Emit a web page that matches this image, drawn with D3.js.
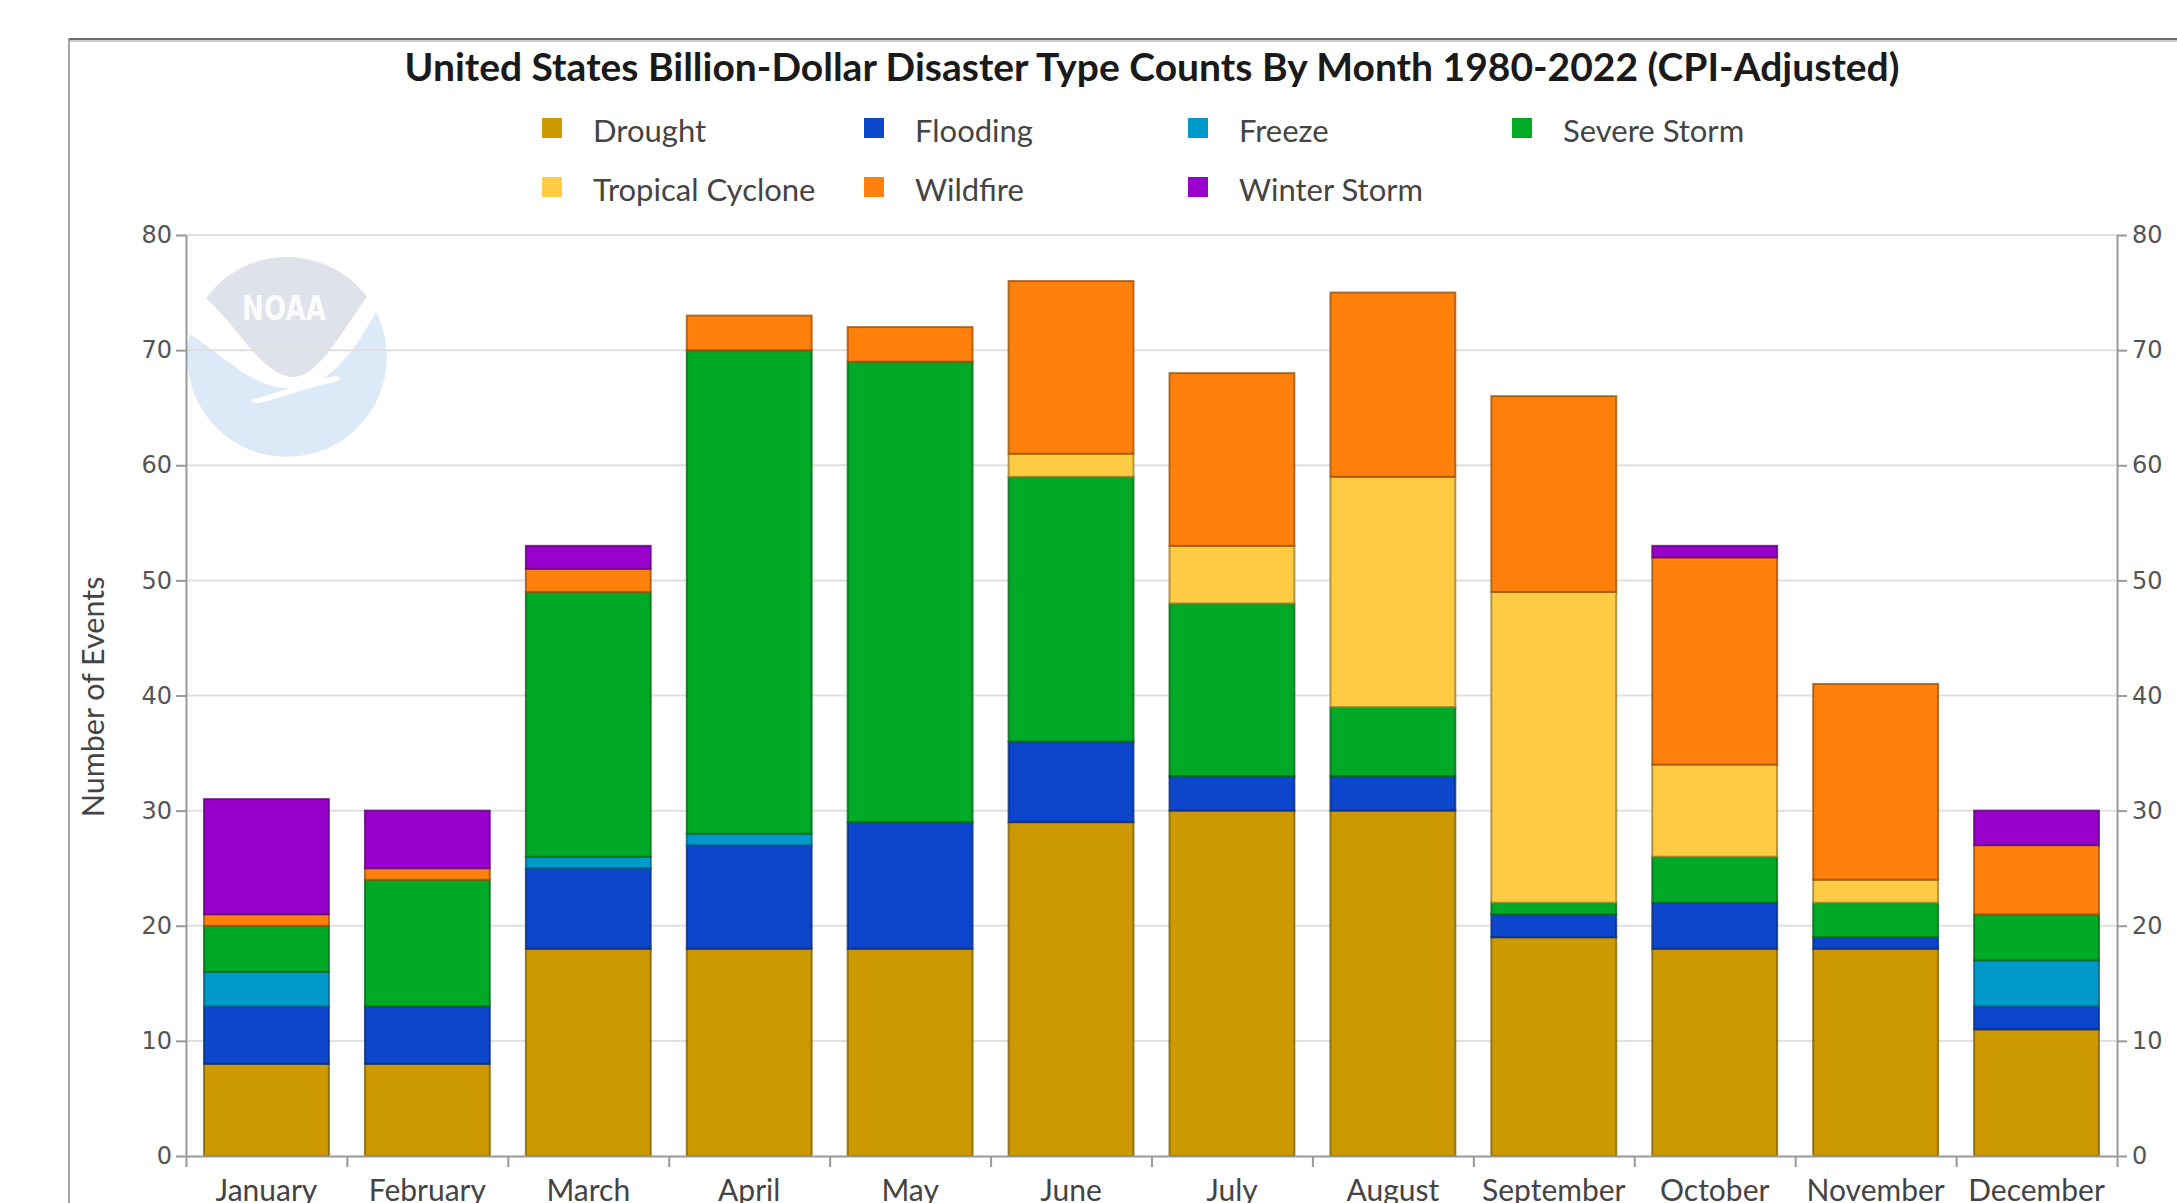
<!DOCTYPE html>
<html>
<head>
<meta charset="utf-8">
<script src="https://cdn.jsdelivr.net/npm/d3@7"></script>
<style>
  html, body { margin: 0; padding: 0; background: #fff; overflow: hidden; }
  svg { display: block; }
</style>
</head>
<body>
<svg id="chart" width="2177" height="1203"></svg>
<script>
// ---- data ----
const months = ["January","February","March","April","May","June","July","August","September","October","November","December"];
const seriesNames = ["Drought","Flooding","Freeze","Severe Storm","Tropical Cyclone","Wildfire","Winter Storm"];
const drought         = [8, 8, 18, 18, 18, 29, 30, 30, 19, 18, 18, 11];
const flooding        = [5, 5, 7, 9, 11, 7, 3, 3, 2, 4, 1, 2];
const freeze          = [3, 0, 1, 1, 0, 0, 0, 0, 0, 0, 0, 4];
const severeStorm     = [4, 11, 23, 42, 40, 23, 15, 6, 1, 4, 3, 4];
const tropicalCyclone = [0, 0, 0, 0, 0, 2, 5, 20, 27, 8, 2, 0];
const wildfire        = [1, 1, 2, 3, 3, 15, 15, 16, 17, 18, 17, 6];
const winterStorm     = [10, 5, 2, 0, 0, 0, 0, 0, 0, 1, 0, 3];
const yTicks = [0, 10, 20, 30, 40, 50, 60, 70, 80];
const titleText = "United States Billion-Dollar Disaster Type Counts By Month 1980-2022 (CPI-Adjusted)";
const yTitle = "Number of Events";

// ---- styles ----
const palette = ["#cc9900", "#0b46cc", "#0099cc", "#00a926", "#ffcc44", "#ff800a", "#9900cc"];

const seriesValues = [drought, flooding, freeze, severeStorm, tropicalCyclone, wildfire, winterStorm];
const table = months.map((m, i) => {
  const row = { month: m };
  seriesNames.forEach((s, j) => row[s] = seriesValues[j][i]);
  return row;
});
const stacked = d3.stack().keys(seriesNames)(table);

const svg = d3.select("#chart");
const L = 186, R = 2117, T = 235, B = 1156;

const x = d3.scaleBand().domain(months).range([L, R]).paddingInner(0.224).paddingOuter(0.112);
const xEdge = d3.scaleLinear().domain([0, 12]).range([L, R]);
const y = d3.scaleLinear().domain([0, 80]).range([B, T]);
const color = d3.scaleOrdinal().domain(seriesNames).range(palette);

// frame
svg.append("line").attr("x1", 69).attr("x2", 2177).attr("y1", 40).attr("y2", 40)
  .attr("stroke", "#ccc").attr("stroke-width", 4);
svg.append("line").attr("x1", 69).attr("x2", 2177).attr("y1", 39).attr("y2", 39)
  .attr("stroke", "#6a6a6a").attr("stroke-width", 2);
svg.append("line").attr("x1", 69).attr("x2", 69).attr("y1", 38).attr("y2", 1203)
  .attr("stroke", "#8a8a8a").attr("stroke-width", 1.5);

// watermark (NOAA logo)
const wm = svg.append("g");
const defs = svg.append("defs");
defs.append("clipPath").attr("id", "logoClip").append("circle")
  .attr("cx", 287).attr("cy", 357).attr("r", 100);
const lg = wm.append("g").attr("clip-path", "url(#logoClip)");
lg.append("circle").attr("cx", 287).attr("cy", 357).attr("r", 100).attr("fill", "#dbeaf6");
lg.append("path").attr("fill", "#ffffff")
  .attr("d", "M180,328 C222,352 252,392 296,388 C330,385 356,350 378,308 L400,240 L180,240 Z");
lg.append("path").attr("fill", "#dfe2ea")
  .attr("d", "M198,292 C232,316 258,372 290,377 C318,380 342,330 372,290 L372,240 L198,240 Z");
lg.append("path").attr("fill", "#ffffff")
  .attr("d", "M254,399 C282,392 308,380 336,376 C344,378 340,381 330,383 C305,388 282,398 258,403 C250,403 250,400 254,399 Z");
lg.append("text").attr("x", 284).attr("y", 320).attr("text-anchor", "middle")
  .attr("font-family", "DejaVu Sans").attr("font-weight", "bold").attr("font-size", 33)
  .attr("textLength", 84).attr("lengthAdjust", "spacingAndGlyphs")
  .attr("fill", "#ffffff").attr("fill-opacity", 0.9).text("NOAA");

// gridlines
svg.append("g").selectAll("line").data(yTicks.filter(d => d > 0)).join("line")
  .attr("x1", L).attr("x2", R).attr("y1", d => y(d)).attr("y2", d => y(d))
  .attr("stroke", "#e0e0e0").attr("stroke-width", 2);

// bars
const gBars = svg.append("g");
stacked.forEach(layer => {
  const c = color(layer.key);
  gBars.append("g").selectAll("rect").data(layer).join("rect")
    .attr("x", d => x(d.data.month))
    .attr("width", x.bandwidth())
    .attr("y", d => y(d[1]))
    .attr("height", d => y(d[0]) - y(d[1]))
    .attr("fill", c)
    .attr("stroke", d3.color(c).darker(1.3))
    .attr("stroke-opacity", 0.8)
    .attr("stroke-width", 2);
});

// axes
const axisColor = "#999";
function styleAxis(g) {
  g.selectAll(".domain").attr("stroke", axisColor).attr("stroke-width", 2);
  g.selectAll(".tick line").attr("stroke", axisColor).attr("stroke-width", 2);
}
const yl = svg.append("g").attr("transform", `translate(${L},0)`)
  .call(d3.axisLeft(y).tickValues(yTicks).tickSize(10).tickSizeOuter(0).tickPadding(4));
const yr = svg.append("g").attr("transform", `translate(${R},0)`)
  .call(d3.axisRight(y).tickValues(yTicks).tickSize(10).tickSizeOuter(0).tickPadding(5));
[yl, yr].forEach(g => {
  styleAxis(g);
  g.selectAll("text").attr("font-family", "DejaVu Sans").attr("font-size", 24).attr("fill", "#555");
});
const xe = svg.append("g").attr("transform", `translate(0,${B})`)
  .call(d3.axisBottom(xEdge).tickValues(d3.range(13)).tickFormat("").tickSize(11).tickSizeOuter(0));
styleAxis(xe);
const xl = svg.append("g").attr("transform", `translate(0,${B})`)
  .call(d3.axisBottom(x).tickSize(0).tickPadding(24));
xl.select(".domain").remove();
xl.selectAll("text").attr("font-family", "Lato").attr("font-size", 30).attr("fill", "#444");

// y title
svg.append("text").attr("transform", `translate(104,697) rotate(-90)`)
  .attr("text-anchor", "middle").attr("font-family", "Lato").attr("font-size", 30.5)
  .attr("fill", "#444").text(yTitle);

// title
svg.append("text").attr("x", 1152).attr("y", 81).attr("text-anchor", "middle")
  .attr("font-family", "Lato").attr("font-weight", "bold").attr("font-size", 39)
  .attr("fill", "#1a1a1a").text(titleText);

// legend
const legX = [542, 864, 1188, 1512];
const legY = [128, 187];
const lgd = svg.append("g");
seriesNames.forEach((s, i) => {
  const cx = legX[i % 4], cy = legY[Math.floor(i / 4)];
  lgd.append("rect").attr("x", cx).attr("y", cy - 10).attr("width", 20).attr("height", 20)
    .attr("fill", color(s));
  lgd.append("text").attr("x", cx + 51).attr("y", cy + 3).attr("dy", "0.36em")
    .attr("font-family", "Lato").attr("font-size", 31).attr("fill", "#444").text(s);
});
</script>
</body>
</html>
